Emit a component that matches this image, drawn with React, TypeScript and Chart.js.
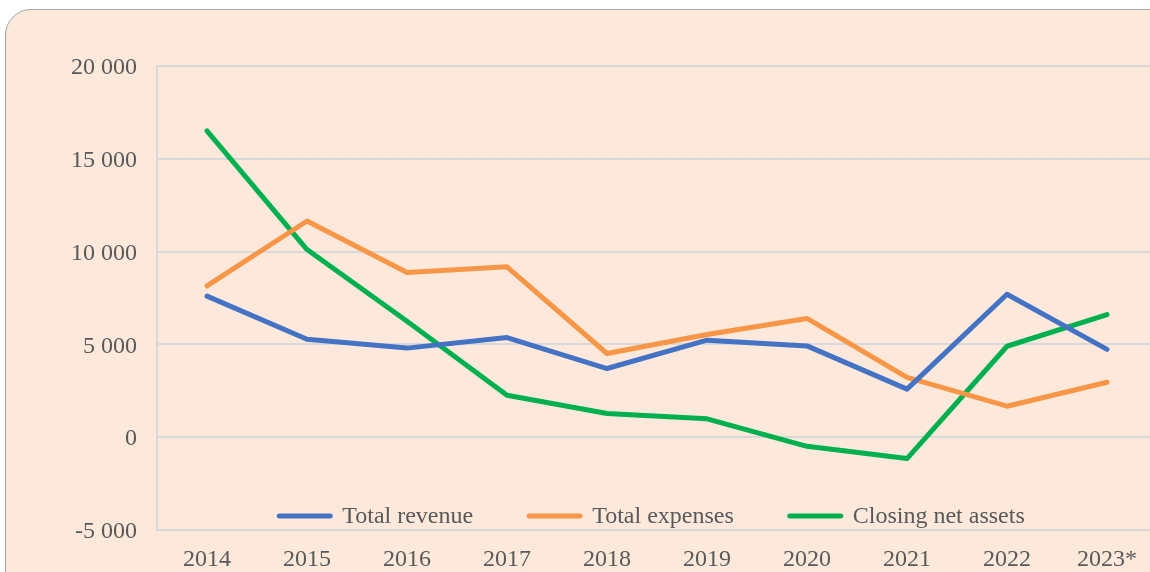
import React, { useEffect, useRef } from "react";
import { Chart, registerables } from "chart.js";

Chart.register(...registerables);

const categories = ["2014", "2015", "2016", "2017", "2018", "2019", "2020", "2021", "2022", "2023*"];
const totalRevenue = [7600, 5280, 4800, 5370, 3700, 5230, 4920, 2590, 7700, 4730];
const totalExpenses = [8150, 11650, 8870, 9180, 4510, 5530, 6400, 3220, 1670, 2960];
const closingNetAssets = [16510, 10110, 6250, 2260, 1280, 990, -490, -1150, 4900, 6610];
const seriesNames = ["Total revenue", "Total expenses", "Closing net assets"];
const seriesColors = ["#4472C4", "#F79646", "#00B050"];

const FONT = "'Liberation Serif', 'Times New Roman', serif";
const TEXT = "#595959";
const FS = 24;

function fmt(v: number): string {
  const s = Math.abs(v).toString().replace(/\B(?=(\d{3})+(?!\d))/g, " ");
  return (v < 0 ? "-" : "") + s;
}

const insideLegend = {
  id: "insideLegend",
  afterDraw(chart: any) {
    const ctx = chart.ctx;
    const area = chart.chartArea;
    ctx.save();
    ctx.font = `${FS}px ${FONT}`;
    const lineLen = 55;
    const gap = 10;
    const itemGap = 54;
    const widths = chart.data.datasets.map((d: any) => ctx.measureText(d.label).width);
    let total = 0;
    widths.forEach((w: number, i: number) => {
      total += lineLen + gap + w + (i < widths.length - 1 ? itemGap : 0);
    });
    const cx = area.left + area.width * 0.494;
    let x = cx - total / 2;
    const y = area.bottom - 14;
    chart.data.datasets.forEach((d: any, i: number) => {
      ctx.strokeStyle = d.borderColor;
      ctx.lineWidth = 5;
      ctx.lineCap = "round";
      ctx.beginPath();
      ctx.moveTo(x + 2, y);
      ctx.lineTo(x + lineLen - 2, y);
      ctx.stroke();
      ctx.fillStyle = TEXT;
      ctx.textBaseline = "middle";
      ctx.textAlign = "left";
      ctx.fillText(d.label, x + lineLen + gap, y + 1);
      x += lineLen + gap + widths[i] + itemGap;
    });
    ctx.restore();
  },
};

export default function App() {
  const ref = useRef<HTMLCanvasElement | null>(null);
  useEffect(() => {
    if (!ref.current) return;
    const data = [totalRevenue, totalExpenses, closingNetAssets];
    const chart = new Chart(ref.current, {
      type: "line",
      data: {
        labels: categories,
        datasets: data.map((d, i) => ({
          label: seriesNames[i],
          data: d,
          borderColor: seriesColors[i],
          backgroundColor: seriesColors[i],
          borderWidth: 5,
          pointRadius: 0,
          tension: 0,
          borderCapStyle: "round" as const,
          borderJoinStyle: "round" as const,
          fill: false,
        })),
      },
      options: {
        animation: false,
        responsive: false,
        maintainAspectRatio: false,
        layout: { padding: { top: 66, right: 3, left: 0, bottom: 0 } },
        plugins: {
          legend: { display: false },
          tooltip: { enabled: false },
        },
        scales: {
          x: {
            type: "category",
            offset: true,
            grid: { display: false, drawTicks: false },
            border: { display: false },
            ticks: {
              color: TEXT,
              font: { family: FONT, size: FS },
              padding: 15,
              maxRotation: 0,
              autoSkip: false,
            },
            afterFit: (s: any) => {
              s.height = 42;
            },
          },
          y: {
            min: -5000,
            max: 20000,
            grid: { color: "#D9D9D9", lineWidth: 2, drawTicks: false },
            border: { display: true, color: "#D9D9D9", width: 2 },
            ticks: {
              stepSize: 5000,
              color: TEXT,
              font: { family: FONT, size: FS },
              padding: 20,
              labelOffset: 2,
              callback: (v: any) => fmt(Number(v)),
            },
            afterFit: (s: any) => {
              s.width = 157;
            },
          },
        },
      },
      plugins: [insideLegend],
    });
    return () => chart.destroy();
  }, []);

  return (
    <div>
      <div
        style={{
          position: "fixed",
          left: 5,
          top: 9,
          width: 1200,
          height: 620,
          background: "#FCE9DB",
          border: "1.5px solid #A6A6A6",
          borderRadius: 26,
          boxSizing: "border-box",
        }}
      />
      <canvas
        ref={ref}
        width={1160}
        height={572}
        style={{ position: "fixed", left: 0, top: 0, width: 1160, height: 572 }}
      />
    </div>
  );
}
